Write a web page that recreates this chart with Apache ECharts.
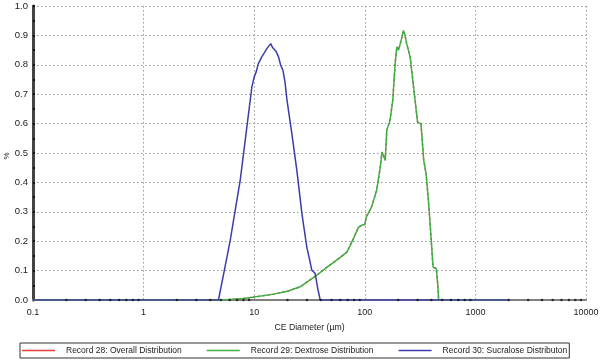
<!DOCTYPE html>
<html><head><meta charset="utf-8">
<script src="https://cdn.jsdelivr.net/npm/echarts@6/dist/echarts.min.js"></script>
<style>html,body{margin:0;padding:0;background:#fff}#c{width:600px;height:362px}</style>
</head><body><div id="c"></div>
<script>
const xTickLabels = ['0.1','1','10','100','1000','10000'];
const xMinorTicks = [0.2,0.3,0.4,0.5,0.6,0.7,0.8,0.9,2,3,4,5,6,7,8,9,20,30,40,50,60,70,80,90,200,300,400,500,600,700,800,900,2000,3000,4000,5000,6000,7000,8000,9000];
const seriesNames = ['Record 28: Overall Distribution','Record 29: Dextrose Distribution','Record 30: Sucralose Distributon'];
const yAxisTitle = '%';

const overallD = [0.1,4.7,6,8,10,15,20,26,37,45,53,60,68.9,79,87.8,95,100,103,115,128,138,143,148,153,158,169,179,188,195,202,209,217,224,231,239,257,276,300,322,341,358,376,395,414,443,456,465,2000];
const overallV = [0,0,0.002,0.005,0.01,0.02,0.03,0.045,0.085,0.11,0.13,0.145,0.163,0.209,0.248,0.255,0.257,0.282,0.316,0.373,0.452,0.503,0.49,0.475,0.577,0.611,0.679,0.804,0.861,0.85,0.849,0.895,0.917,0.90,0.872,0.827,0.724,0.605,0.600,0.475,0.430,0.339,0.226,0.112,0.107,0.056,0,0];

const dextroseD = [0.1,4.7,6,8,10,15,20,26,37,45,53,60,68.9,79,87.8,95,100,103,115,128,138,143,148,153,158,169,179,188,195,202,209,217,224,231,239,257,276,300,322,341,358,376,395,414,443,456,465,2000];
const dextroseV = [0,0,0.002,0.005,0.01,0.02,0.03,0.045,0.085,0.11,0.13,0.145,0.163,0.209,0.248,0.255,0.257,0.282,0.316,0.373,0.452,0.503,0.49,0.475,0.577,0.611,0.679,0.804,0.861,0.85,0.849,0.895,0.917,0.90,0.872,0.827,0.724,0.605,0.600,0.475,0.430,0.339,0.226,0.112,0.107,0.056,0,0];

const sucraloseD = [0.1,4.75,5.3,6.07,6.8,7.47,8.0,8.59,9.1,9.53,10,10.4,10.9,11.3,11.7,12.3,13.0,13.5,14.1,14.6,15.2,15.8,16.6,17.3,18.2,19.0,19.8,21.9,24.3,27.0,29.9,32.0,33.2,35.6,37.5,39.5,2000];
const sucraloseV = [0,0,0.09,0.203,0.315,0.407,0.496,0.589,0.665,0.725,0.759,0.775,0.804,0.815,0.827,0.84,0.855,0.85,0.872,0.86,0.861,0.845,0.827,0.80,0.781,0.74,0.679,0.566,0.441,0.294,0.180,0.13,0.101,0.090,0.04,0,0];

const zip = (a,b) => a.map((v,i)=>[v,b[i]]);
const colors = ['#e8413c','#3fae45','#3c3caa'];

const chart = echarts.init(document.getElementById('c'), null, {renderer:'canvas'});
const font = 'Liberation Sans, Arial, sans-serif';
chart.setOption({
  animation:false,
  grid:{left:33,right:14,top:6,bottom:62,containLabel:false,outerBoundsMode:'none'},
  graphic:[{type:'text',x:3,y:156,rotation:Math.PI/2,
    style:{text:yAxisTitle,fontFamily:font,fontSize:8,fill:'#222',textAlign:'center',textVerticalAlign:'top'}}],
  legend:{
    data:seriesNames.map((n,i)=>({name:n,icon:'rect',itemStyle:{color:colors[i]}})),
    left:20, top:343, itemWidth:33, itemHeight:1.5, itemGap:25,
    borderColor:'#333', borderWidth:1, padding:[3,2,3,2], borderRadius:0,
    textStyle:{fontFamily:font,fontSize:8.5,color:'#222',padding:[0,0,0,6]}
  },
  xAxis:{
    type:'log', min:0.1, max:10000, logBase:10,
    name:'CE Diameter (µm)', nameLocation:'middle', nameGap:23,
    nameTextStyle:{fontFamily:font,fontSize:8.7,color:'#222'},
    axisLine:{show:true,onZero:false,lineStyle:{color:'#808080',width:2}},
    axisTick:{show:false},
    axisLabel:{fontFamily:font,fontSize:9,color:'#222',margin:8,
      formatter:(v)=>{const i=Math.round(Math.log10(v))+1;return xTickLabels[i]!==undefined?xTickLabels[i]:'';}},
    splitLine:{show:true,lineStyle:{color:'#999',type:[1.5,2.5],width:1}}
  },
  yAxis:{
    type:'value', min:0, max:1, interval:0.1,
    axisLine:{show:true,lineStyle:{color:'#444',width:3}},
    axisTick:{show:true,inside:true,length:2,lineStyle:{color:'#111',width:2}},
    minorTick:{show:true,splitNumber:2,length:2,lineStyle:{color:'#111',width:2}},
    axisLabel:{fontFamily:font,fontSize:9.5,color:'#1a1a1a',margin:5,formatter:(v)=>v.toFixed(1)},
    splitLine:{show:true,lineStyle:{color:'#999',type:[1.5,2.5],width:1}}
  },
  series:[
    {name:seriesNames[0],type:'line',data:zip(overallD,overallV),showSymbol:false,z:2,
     lineStyle:{color:colors[0],width:1.5,type:[2,3]},itemStyle:{color:colors[0]}},
    {name:seriesNames[1],type:'line',data:zip(dextroseD,dextroseV),showSymbol:false,z:3,
     lineStyle:{color:colors[1],width:1.5},itemStyle:{color:colors[1]}},
    {name:seriesNames[2],type:'line',data:zip(sucraloseD,sucraloseV),showSymbol:false,z:4,
     lineStyle:{color:colors[2],width:1.5},itemStyle:{color:colors[2]}},
    {name:'ticks',type:'scatter',data:xMinorTicks.map(v=>[v,0]),symbol:'circle',symbolSize:2.5,
     itemStyle:{color:'#111'},z:5,silent:true}
  ]
});
</script></body></html>
